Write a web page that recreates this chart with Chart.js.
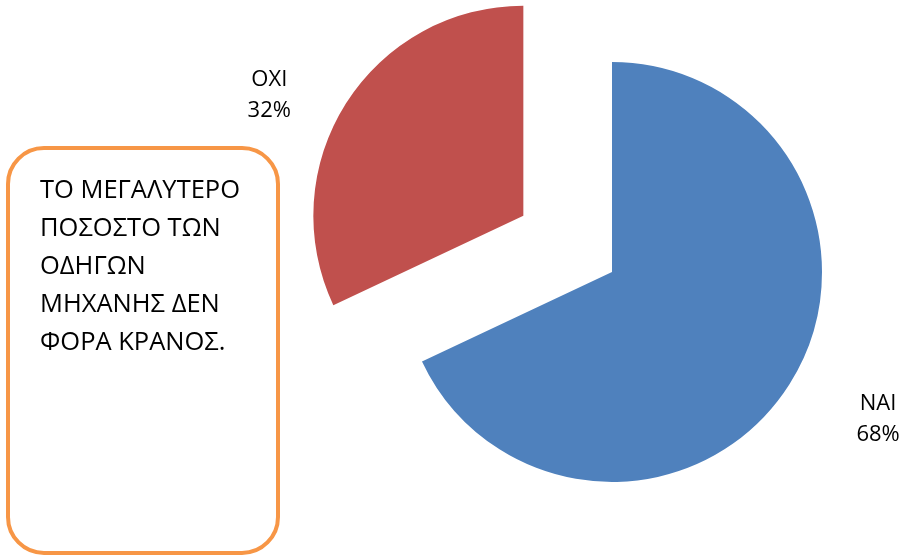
<!DOCTYPE html>
<html lang="el">
<head>
  <meta charset="UTF-8" />
  <title>ΚΡΑΝΟΣ</title>
  <script src="https://cdn.jsdelivr.net/npm/chart.js"></script>
  <style>
    body { margin: 0; background: #fff; }
    #wrap { position: relative; width: 906px; height: 560px; }
    .note {
      position: absolute;
      left: 6px; top: 146px;
      width: 236px; height: 382px;
      border: 4px solid #f79646;
      border-radius: 38px;
      font-family: "Open Sans", sans-serif;
      font-size: 25.5px;
      line-height: 38px;
      color: #000;
      padding: 19px 0 0 30px;
    }
    .note div { white-space: nowrap; }
  </style>
</head>
<body>
  <div id="wrap">
    <canvas id="pie"></canvas>
    <div class="note">
      <div>ΤΟ ΜΕΓΑΛΥΤΕΡΟ</div>
      <div>ΠΟΣΟΣΤΟ ΤΩΝ</div>
      <div>ΟΔΗΓΩΝ</div>
      <div>ΜΗΧΑΝΗΣ ΔΕΝ</div>
      <div>ΦΟΡΑ ΚΡΑΝΟΣ.</div>
    </div>
  </div>
  <script>
    const answers = ['ΝΑΙ', 'ΟΧΙ'];
    const shares = [68, 32];
    const sliceColors = ['#4f81bd', '#c0504d'];

    // how far each slice is pulled out of the pie, in px
    const explode = [0, 105];

    // move exploded slices along their bisector
    const explodePlugin = {
      id: 'explode',
      afterDatasetsUpdate(chart) {
        const arcs = chart.getDatasetMeta(0).data;
        arcs.forEach((arc, i) => {
          const d = explode[i] || 0;
          const mid = (arc.startAngle + arc.endAngle) / 2;
          arc.x += Math.cos(mid) * d;
          arc.y += Math.sin(mid) * d;
        });
      }
    };

    // category name and percentage outside each slice
    const outsideLabels = {
      id: 'outsideLabels',
      afterDatasetsDraw(chart) {
        const ctx = chart.ctx;
        const arcs = chart.getDatasetMeta(0).data;
        const values = chart.data.datasets[0].data;
        const total = values.reduce((a, b) => a + b, 0);
        ctx.save();
        ctx.font = '22px "Open Sans", sans-serif';
        ctx.fillStyle = '#000';
        ctx.textAlign = 'center';
        ctx.textBaseline = 'middle';
        arcs.forEach((arc, i) => {
          const mid = (arc.startAngle + arc.endAngle) / 2;
          const lx = arc.x + Math.cos(mid) * (arc.outerRadius + 98) + 6;
          const ly = arc.y + Math.sin(mid) * (arc.outerRadius + 40) + 11;
          const pct = Math.round(values[i] / total * 100) + '%';
          ctx.fillText(chart.data.labels[i], lx, ly - 13);
          ctx.fillText(pct, lx, ly + 18);
        });
        ctx.restore();
      }
    };

    new Chart(document.getElementById('pie'), {
      type: 'pie',
      data: {
        labels: answers,
        datasets: [{
          data: shares,
          backgroundColor: sliceColors,
          borderWidth: 0
        }]
      },
      options: {
        responsive: true,
        maintainAspectRatio: false,
        animation: false,
        radius: 210,
        layout: { padding: { left: 318, right: 0, top: 0, bottom: 16 } },
        plugins: {
          legend: { display: false },
          tooltip: { enabled: false }
        }
      },
      plugins: [explodePlugin, outsideLabels]
    });
  </script>
</body>
</html>
